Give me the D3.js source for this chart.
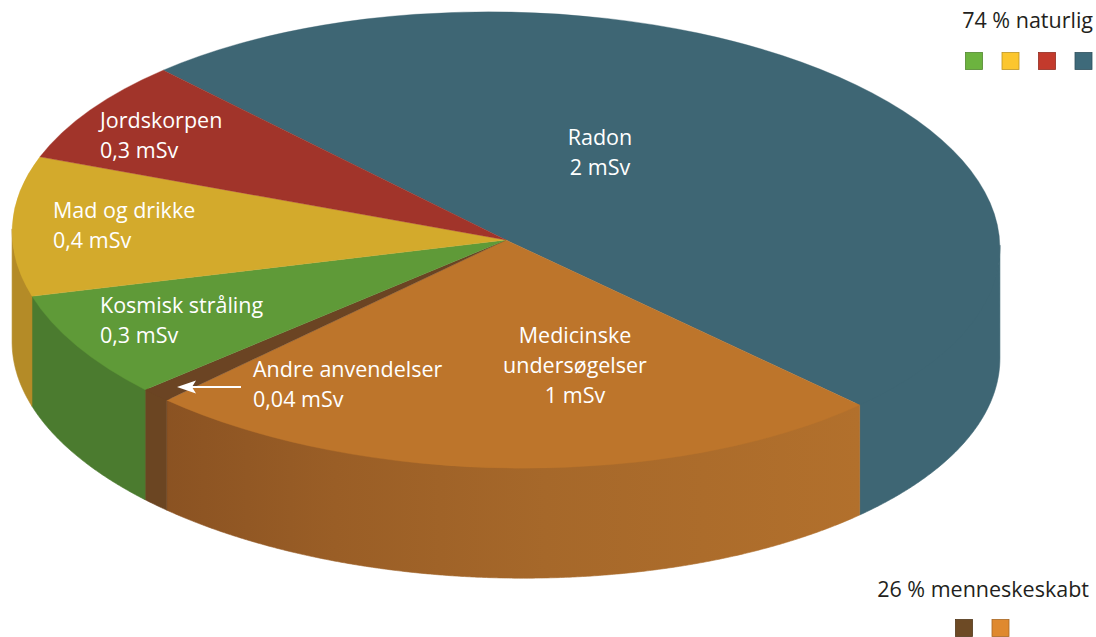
<!DOCTYPE html>
<html><head><meta charset="utf-8">
<script src="https://cdn.jsdelivr.net/npm/d3@7"></script>
<style>html,body{margin:0;padding:0;background:#fff;} svg{display:block;}</style>
</head><body>
<script>
// ---- data ----
const categories = ["Radon", "Medicinske undersøgelser", "Andre anvendelser", "Kosmisk stråling", "Mad og drikke", "Jordskorpen"];
const values = [2, 1, 0.04, 0.3, 0.4, 0.3];
const valueLabels = ["2 mSv", "1 mSv", "0,04 mSv", "0,3 mSv", "0,4 mSv", "0,3 mSv"];
const nameLines = [["Radon"], ["Medicinske", "undersøgelser"], ["Andre anvendelser"], ["Kosmisk stråling"], ["Mad og drikke"], ["Jordskorpen"]];
const groupOf = ["naturlig", "menneskeskabt", "menneskeskabt", "naturlig", "naturlig", "naturlig"];
const groupTitles = {naturlig: "74 % naturlig", menneskeskabt: "26 % menneskeskabt"};
const legendNatural = ["Kosmisk stråling", "Mad og drikke", "Jordskorpen", "Radon"];
const legendHuman = ["Andre anvendelser", "Medicinske undersøgelser"];

// ---- styles ----
const topColor = ["#3e6674", "#bd752b", "#6b4423", "#5f9a38", "#d3aa2c", "#a1342a"];
const sideColor = ["#3e6674", "url(#medGrad)", "#6b4522", "#4b7b2f", "#b48b27", "#7f2a22"];
const legendColor = {"Kosmisk stråling": "#6cb33f", "Mad og drikke": "#fbc62e", "Jordskorpen": "#c33a2c", "Radon": "#3e6a7a", "Andre anvendelser": "#6d4a25", "Medicinske undersøgelser": "#df892f"};
// label layout: [x, y of first line, anchor]
const labelPos = [[600, 145, "middle"], [575, 343, "middle"], [253, 377, "start"], [100, 313, "start"], [53, 218, "start"], [100, 128, "start"]];

const W = 1096, H = 637;
const cx = 506, cy = 240, rx = 494, ry = 228, depth = 110, rotDeg = 1.2;
const rot = rotDeg * Math.PI / 180;
const start = -44.5 * Math.PI / 180;
const fontPx = 21.5;

const svg = d3.select("body").append("svg").attr("width", W).attr("height", H)
  .style("font-family", "'Open Sans', sans-serif");

const defs = svg.append("defs");
const g1 = defs.append("linearGradient").attr("id", "medGrad").attr("gradientUnits", "userSpaceOnUse")
  .attr("x1", 160).attr("x2", 860).attr("y1", 0).attr("y2", 0);
[[0, "#8a5222"], [0.25, "#9a5e26"], [0.55, "#a6682a"], [1, "#b2702c"]].forEach(s =>
  g1.append("stop").attr("offset", s[0]).attr("stop-color", s[1]));

const pie = d3.pie().sort(null).value(d => d).startAngle(start).endAngle(start + 2 * Math.PI);
const arcs = pie(values);

function P(a, dz) {
  const ex = rx * Math.sin(a), ey = -ry * Math.cos(a);
  return [cx + ex * Math.cos(rot) - ey * Math.sin(rot), cy + ex * Math.sin(rot) + ey * Math.cos(rot) + (dz || 0)];
}
const phiR = Math.atan2(rx * Math.cos(rot), ry * Math.sin(rot));
const phiL = phiR + Math.PI;

// walls (top edge tucked under the top surface to avoid seams)
const wallG = svg.append("g");
arcs.forEach((d, i) => {
  const lo = Math.max(d.startAngle, phiR), hi = Math.min(d.endAngle, phiL);
  if (lo >= hi) return;
  const n = Math.max(2, Math.ceil((hi - lo) / 0.005));
  const angs = d3.range(n + 1).map(k => lo + (hi - lo) * k / n);
  const pts = angs.map(a => P(a, -3)).concat(angs.slice().reverse().map(a => P(a, depth)));
  wallG.append("path").attr("d", d3.line()(pts) + "Z")
    .attr("fill", sideColor[i]).attr("stroke", sideColor[i]).attr("stroke-width", 0.6);
});

// tops
const arcGen = d3.arc().innerRadius(0).outerRadius(rx);
const topG = svg.append("g")
  .attr("transform", `translate(${cx},${cy}) rotate(${rotDeg}) scale(1,${ry / rx})`);
topG.selectAll("path").data(arcs).join("path")
  .attr("d", arcGen).attr("fill", (d, i) => topColor[i])
  .attr("stroke", (d, i) => topColor[i]).attr("stroke-width", 0.5);

// labels
const lab = svg.append("g").attr("fill", "#fff").style("font-size", fontPx + "px");
arcs.forEach((d, i) => {
  const [x, y, anchor] = labelPos[i];
  const lines = nameLines[i].concat([valueLabels[i]]);
  const t = lab.append("text").attr("x", x).attr("y", y).attr("text-anchor", anchor);
  lines.forEach((s, k) => t.append("tspan").attr("x", x).attr("dy", k === 0 ? 0 : 30).text(s));
});

// arrow for small slice
const arrowY = 387;
svg.append("line").attr("x1", 241).attr("x2", 188).attr("y1", arrowY).attr("y2", arrowY)
  .attr("stroke", "#fff").attr("stroke-width", 2);
svg.append("path").attr("d", d3.line()([[177, arrowY], [196, arrowY - 6.5], [192, arrowY], [196, arrowY + 6.5]]) + "Z")
  .attr("fill", "#fff");

// legends
function legend(title, items, tx, ty, sx0, sy) {
  svg.append("text").attr("x", tx).attr("y", ty).attr("text-anchor", "end")
    .attr("fill", "#231f20").style("font-size", fontPx + "px").text(title);
  items.forEach((name, k) => {
    svg.append("rect").attr("x", sx0 + k * 36.5).attr("y", sy).attr("width", 17).attr("height", 17)
      .attr("fill", legendColor[name]).attr("stroke", d3.color(legendColor[name]).darker(0.8)).attr("stroke-width", 0.8);
  });
}
legend(groupTitles.naturlig, legendNatural, 1093, 28, 965.5, 52.5);
legend(groupTitles.menneskeskabt, legendHuman, 1089, 597, 955.5, 619.5);
</script>
</body></html>
